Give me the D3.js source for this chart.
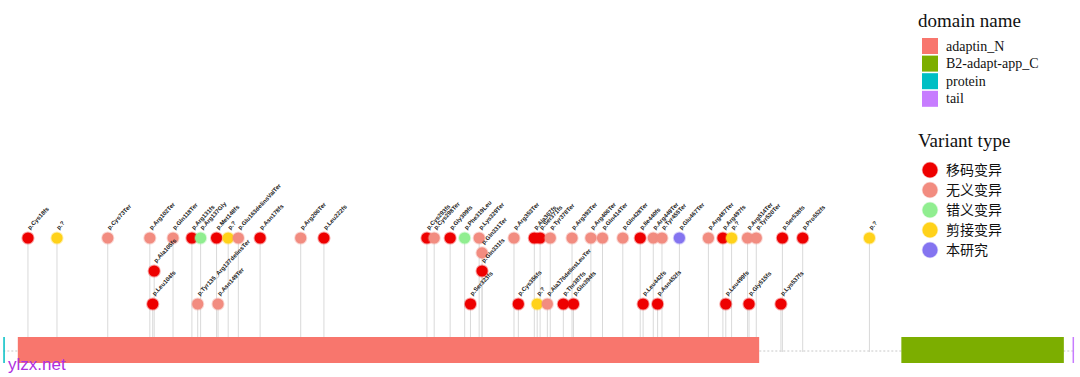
<!DOCTYPE html>
<html>
<head>
<meta charset="utf-8">
<script src="https://cdn.jsdelivr.net/npm/d3@7"></script>
<style>
  body { margin: 0; background: #fff; }
  svg { display: block; }
</style>
</head>
<body>
<svg id="chart"></svg>
<script>
// Protein length (aa) and domain data
const proteinLength = 739;
const domainNames = ["adaptin_N", "B2-adapt-app_C", "protein", "tail"];
const domainStart = [11, 620, 1, 738];
const domainEnd = [522, 732, 1.6, 738.6];

// Variant types (legend order)
const variantTypes = ["移码变异", "无义变异", "错义变异", "剪接变异", "本研究"];

// Variants: position, label, type index, stack level
const varPos = [18, 38, 73, 102, 104, 105, 118, 131, 137, 135, 148, 149, 156, 163, 178, 206, 222,
  293, 298, 309, 319, 323, 329, 331, 331, 353, 356, 367, 369, 371, 376, 378, 387, 393, 394,
  406, 414, 428, 440, 442, 449, 452, 455, 467, 487, 497, 499, 503, 514, 515, 520, 537, 538, 552, 598];
const varLabel = ["p.Cys18fs", "p.?", "p.Cys73Ter", "p.Arg102Ter", "p.Leu104fs", "p.Ala105fs", "p.Gln118Ter",
  "p.Arg131fs", "p.Arg137Gly", "p.Tyr135_Arg137delinsTer", "p.Met148fs", "p.Asn149Ter", "p.?",
  "p.Glu163delinsValTer", "p.Asn178fs", "p.Arg206Ter", "p.Leu222fs",
  "p.Cys293fs", "p.Cys298Ter", "p.Gly309fs", "p.Phe319Leu", "p.Ser323fs", "p.Lys329Ter", "p.Gln331Ter",
  "p.Gln331fs", "p.Arg353Ter", "p.Cys356fs", "p.Ala367fs", "p.?", "p.Ser371fs", "p.Ala376delinsLeuTer",
  "p.Tyr378Ter", "p.Thr387fs", "p.Arg393Ter", "p.Gln394fs",
  "p.Arg406Ter", "p.Gln414Ter", "p.Gln428Ter", "p.Ile440fs", "p.Leu442fs", "p.Arg449Ter", "p.Asn452fs",
  "p.Tyr455Ter", "p.Glu467Ter", "p.Arg487Ter", "p.Arg497fs", "p.Leu499fs", "p.?", "p.Arg514Ter",
  "p.Gly515fs", "p.Tyr520Ter", "p.Lys537fs", "p.Ser538fs", "p.Pro552fs", "p.?"];
const varType = [0, 3, 1, 1, 0, 0, 1, 0, 2, 1, 0, 1, 3, 1, 0, 1, 0,
  0, 1, 0, 2, 0, 1, 1, 0, 1, 0, 0, 3, 0, 1, 1, 0, 1, 0,
  1, 1, 1, 0, 0, 1, 0, 1, 4, 1, 0, 0, 3, 1, 0, 1, 0, 0, 0, 3];
const varLevel = [3, 3, 3, 3, 1, 2, 3, 3, 3, 1, 3, 1, 3, 3, 3, 3, 3,
  3, 3, 3, 3, 1, 3, 2.55, 2, 3, 1, 3, 1, 3, 1, 3, 1, 3, 1,
  3, 3, 3, 3, 1, 3, 1, 3, 3, 3, 3, 1, 3, 3, 1, 3, 1, 3, 3, 3];

const width = 1080;
const height = 377;

const svg = d3.select("#chart")
  .attr("width", width)
  .attr("height", height);

// Scales
const x = d3.scaleLinear().domain([1, proteinLength]).range([3.3, 1074]);
const y = d3.scaleLinear().domain([0, 3]).range([337, 238]);
const domainColor = d3.scaleOrdinal()
  .domain(domainNames)
  .range(["#F8766D", "#7CAE00", "#00BFC4", "#C77CFF"]);
const typeColor = d3.scaleOrdinal()
  .domain(variantTypes)
  .range(["#EE0000", "#F28C80", "#90EE90", "#FFD21A", "#8474F0"]);

const variants = varPos.map((p, i) => ({
  pos: p, label: varLabel[i], type: variantTypes[varType[i]], level: varLevel[i]
}));
const domains = domainNames.map((n, i) => ({ name: n, start: domainStart[i], end: domainEnd[i] }));

const backboneY = 351;

// Dotted backbone
svg.append("line")
  .attr("x1", x(1)).attr("x2", x(proteinLength))
  .attr("y1", backboneY).attr("y2", backboneY)
  .attr("stroke", "#c8c8c8")
  .attr("stroke-width", 1)
  .attr("stroke-dasharray", "2,2");

// Stems
svg.append("g")
  .selectAll("line")
  .data(variants)
  .enter().append("line")
  .attr("x1", d => x(d.pos)).attr("x2", d => x(d.pos))
  .attr("y1", d => y(d.level)).attr("y2", backboneY + 1)
  .attr("stroke", "#d9d9d9")
  .attr("stroke-width", 1);

// Domains
svg.append("g")
  .selectAll("rect")
  .data(domains)
  .enter().append("rect")
  .attr("x", d => x(d.start))
  .attr("y", 337)
  .attr("width", d => Math.max(1.5, x(d.end) - x(d.start)))
  .attr("height", 26)
  .attr("fill", d => domainColor(d.name));

// Lollipop heads
svg.append("g")
  .selectAll("circle")
  .data(variants)
  .enter().append("circle")
  .attr("cx", d => x(d.pos))
  .attr("cy", d => y(d.level))
  .attr("r", 5.6)
  .attr("fill", d => typeColor(d.type))
  .attr("stroke", d => typeColor(d.type))
  .attr("stroke-opacity", 0.35)
  .attr("stroke-width", 2);

// Labels
svg.append("g")
  .selectAll("text")
  .data(variants)
  .enter().append("text")
  .attr("transform", d => `translate(${x(d.pos) + 2},${y(d.level) - 8}) rotate(-47)`)
  .attr("font-family", "Liberation Sans, Arial, sans-serif")
  .attr("font-size", "6px")
  .attr("font-weight", "bold")
  .attr("fill", "#222")
  .text(d => d.label);

// Legend: domain name
const legend = svg.append("g").attr("transform", "translate(918,0)");
legend.append("text")
  .attr("x", 0).attr("y", 27)
  .attr("font-family", "Liberation Serif, Times New Roman, serif")
  .attr("font-size", "19px")
  .attr("fill", "#111")
  .text("domain name");

const domLegend = legend.selectAll(".dom")
  .data(domainNames)
  .enter().append("g")
  .attr("class", "dom")
  .attr("transform", (d, i) => `translate(4,${38 + i * 17.6})`);
domLegend.append("rect")
  .attr("width", 16).attr("height", 16)
  .attr("fill", d => domainColor(d));
domLegend.append("text")
  .attr("x", 24).attr("y", 12.5)
  .attr("font-family", "Liberation Serif, Times New Roman, serif")
  .attr("font-size", "14px")
  .attr("fill", "#111")
  .text(d => d);

// Legend: variant type
legend.append("text")
  .attr("x", 0).attr("y", 147)
  .attr("font-family", "Liberation Serif, Times New Roman, serif")
  .attr("font-size", "19px")
  .attr("fill", "#111")
  .text("Variant type");

const typeLegend = legend.selectAll(".vt")
  .data(variantTypes)
  .enter().append("g")
  .attr("class", "vt")
  .attr("transform", (d, i) => `translate(12,${170 + i * 20})`);
typeLegend.append("circle")
  .attr("r", 7.5)
  .attr("fill", d => typeColor(d))
  .attr("stroke", d => typeColor(d))
  .attr("stroke-opacity", 0.35)
  .attr("stroke-width", 1.5);
typeLegend.append("text")
  .attr("x", 16).attr("y", 5)
  .attr("font-family", "Noto Sans CJK SC, sans-serif")
  .attr("font-size", "14px")
  .attr("fill", "#111")
  .text(d => d);

// Watermark
svg.append("text")
  .attr("x", 8).attr("y", 370)
  .attr("font-family", "Liberation Sans, Arial, sans-serif")
  .attr("font-size", "17px")
  .attr("fill", "#B030E0")
  .text("ylzx.net");
</script>
</body>
</html>
